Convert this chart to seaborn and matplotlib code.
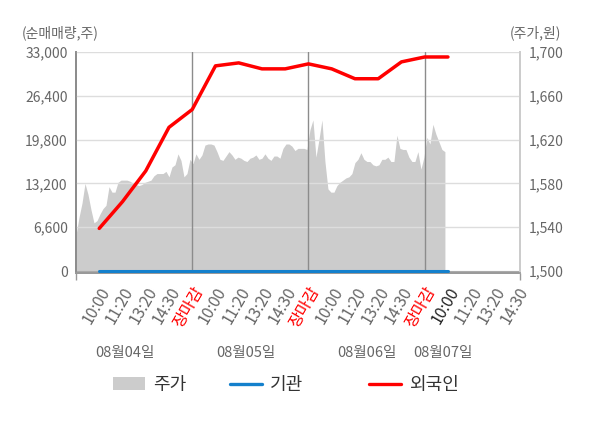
import numpy as np
import pandas as pd
import matplotlib
matplotlib.use("Agg")
import matplotlib.pyplot as plt
from matplotlib.patches import Patch
from matplotlib.lines import Line2D
from matplotlib.transforms import blended_transform_factory
import seaborn as sns

# ---------------- data ----------------
tick_labels = ["10:00", "11:20", "13:20", "14:30", "장마감",
               "10:00", "11:20", "13:20", "14:30", "장마감",
               "10:00", "11:20", "13:20", "14:30", "장마감",
               "10:00", "11:20", "13:20", "14:30"]
day_labels = ["08월04일", "08월05일", "08월06일", "08월07일"]
day_label_pos = [2.1, 7.3, 12.5, 15.8]

# price (주가, 원) sampled evenly over the session slots
price = [1533, 1549, 1562, 1580, 1570, 1556, 1544, 1546, 1552, 1557, 1560, 1577,
         1572, 1572, 1581, 1583, 1583, 1583, 1582, 1580, 1579, 1578, 1579, 1581,
         1582, 1583, 1587, 1589, 1589, 1589, 1591, 1586, 1595, 1597, 1607, 1601,
         1586, 1589, 1602, 1598, 1607, 1602, 1606, 1615, 1616, 1616, 1615, 1609,
         1602, 1601, 1605, 1609, 1606, 1602, 1604, 1603, 1601, 1600, 1603, 1604,
         1606, 1602, 1603, 1607, 1603, 1601, 1605, 1605, 1603, 1612, 1616, 1616,
         1614, 1610, 1612, 1612, 1612, 1611, 1629, 1638, 1604, 1620, 1638, 1600,
         1575, 1572, 1572, 1578, 1581, 1583, 1585, 1586, 1589, 1599, 1602, 1608,
         1602, 1600, 1600, 1597, 1596, 1597, 1602, 1602, 1604, 1600, 1600, 1624,
         1612, 1611, 1611, 1604, 1600, 1600, 1609, 1593, 1604, 1622, 1616, 1634,
         1625, 1618, 1611, 1609]
price_end_slot = 15.87

# net buying volume (순매매량, 주) at each label slot
flow_slot = list(range(1, 17))
foreign = [6420, 10450, 15080, 21650, 24340, 30910, 31360, 30460, 30460, 31210,
           30460, 28970, 28970, 31510, 32250, 32250]
institution = [0] * 16

left_ticks = [0, 6600, 13200, 19800, 26400, 33000]
right_ticks = [1500, 1540, 1580, 1620, 1660, 1700]

# ---------------- style ----------------
sns.set_theme(style="white")
plt.rcParams["font.family"] = ["Noto Sans CJK KR", "DejaVu Sans"]

GRAY_TXT = "#666666"
BLUE = "#1480cc"
RED = "#ff0000"
AREA = "#cccccc"

fig = plt.figure(figsize=(6.0, 4.28), dpi=100)
ax = fig.add_axes([76/600, 1-273/428, 444/600, 221/428])
ax2 = ax.twinx()
ax.set_zorder(2)
ax2.set_zorder(1)
ax.patch.set_visible(False)
ax2.set_facecolor("#f4f4f4")

price_x = np.linspace(0, price_end_slot, len(price))
ax2.fill_between(price_x, 1400, price, color=AREA, lw=0)

df = pd.DataFrame({"slot": flow_slot, "외국인": foreign, "기관": institution})
sns.lineplot(data=df, x="slot", y="기관", ax=ax, color=BLUE, lw=2.2, zorder=5)
sns.lineplot(data=df, x="slot", y="외국인", ax=ax, color=RED, lw=2.5, zorder=6)

lo = -300
ax.set_ylim(lo, 33000)
ax2.set_ylim(1500 + lo * 200 / 33000, 1700)
ax.set_xlim(0, 19.1)

ax.set_yticks(left_ticks)
ax.set_yticklabels([f"{v:,}" for v in left_ticks])
ax2.set_yticks(right_ticks)
ax2.set_yticklabels([f"{v:,}" for v in right_ticks])
ax.set_xlabel("")
ax.set_ylabel("")

for t in left_ticks[1:]:
    ax.axhline(t, color="#dddddd", lw=1, zorder=1)
ax.axhline(0, color="#aaaaaa", lw=0.8, zorder=1)
for v in [5, 10, 15]:
    ax.axvline(v, color="#8c8c8c", lw=1, zorder=1)

ax.set_xticks(range(1, 20))
ax.set_xticklabels(tick_labels, rotation=60, ha="right", va="top",
                   rotation_mode="anchor")
for i, lab in enumerate(ax.get_xticklabels()):
    if tick_labels[i] == "장마감":
        lab.set_color(RED)
    elif i == 15:
        lab.set_color("#222222")
    else:
        lab.set_color(GRAY_TXT)
ax.set_xticks([0, 5, 10, 15, 19.1], minor=True)
ax.tick_params(axis="x", which="major", length=0, pad=8, labelsize=11.5)
ax.tick_params(axis="x", which="minor", length=5, color="#999999", width=1,
               bottom=True)
ax.tick_params(axis="y", length=0, pad=6, labelsize=10, colors=GRAY_TXT)
ax2.tick_params(axis="y", length=0, pad=6, labelsize=10, colors=GRAY_TXT)

for a in (ax, ax2):
    a.spines["top"].set_visible(False)
    a.spines["left"].set_color("#8c8c8c")
    a.spines["right"].set_color("#cccccc")
    a.spines["bottom"].set_color("#999999")

fig.text(22/600, 1-33/428, "(순매매량,주)", fontsize=10, color=GRAY_TXT,
         ha="left", va="center")
fig.text(561/600, 1-33/428, "(주가,원)", fontsize=10, color=GRAY_TXT,
         ha="right", va="center")

tr = blended_transform_factory(ax.transData, fig.transFigure)
for pos, lab in zip(day_label_pos, day_labels):
    ax.text(pos, 1-353/428, lab, transform=tr, ha="center", va="center",
            fontsize=10.5, color=GRAY_TXT)

handles = [Patch(facecolor=AREA, edgecolor="none", label="주가"),
           Line2D([], [], color=BLUE, lw=2.4, label="기관"),
           Line2D([], [], color=RED, lw=2.4, label="외국인")]
starts = [116, 233, 372]
for h, x0 in zip(handles, starts):
    fig.legend(handles=[h], loc="center left",
               bbox_to_anchor=((x0 - 3) / 600, 1-385/428),
               frameon=False, fontsize=13, handlelength=1.75,
               handleheight=0.75, handletextpad=0.45, borderpad=0,
               borderaxespad=0, labelcolor="#333333")

fig.savefig("out.png", dpi=100, facecolor="white")
